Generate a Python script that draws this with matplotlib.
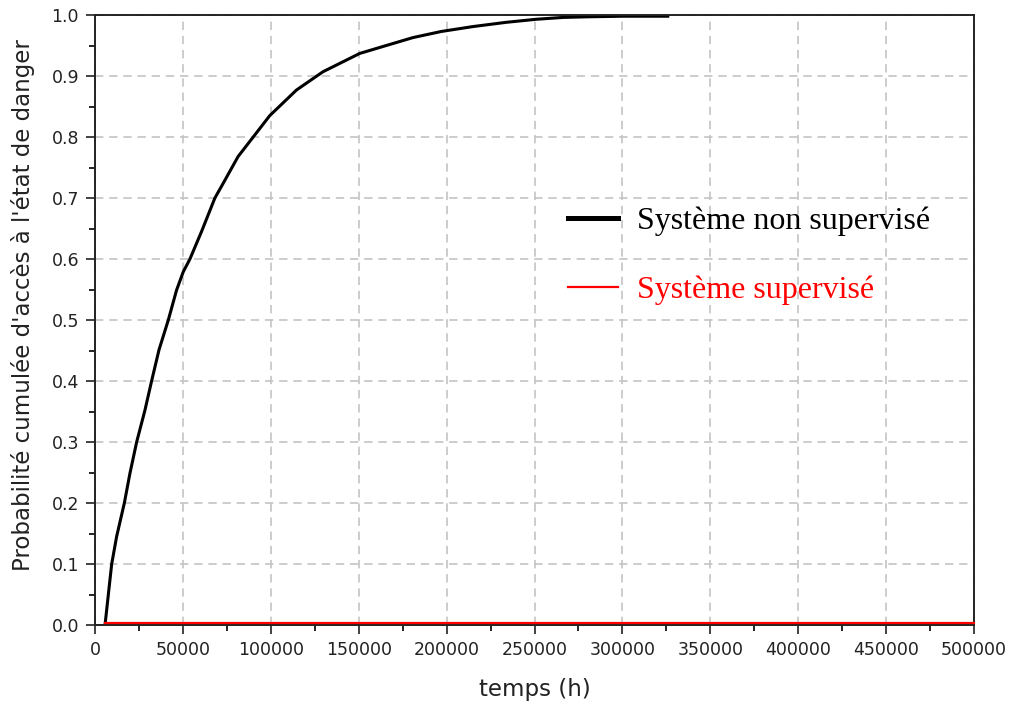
import numpy as np
import matplotlib
matplotlib.use('Agg')
import matplotlib.pyplot as plt
from matplotlib.ticker import MultipleLocator, FormatStrFormatter

# values
temps_h = [5700, 8500, 9500, 12300, 16700, 19900, 23700, 28400, 32200, 36400,
           41700, 46400, 50200, 54000, 60600, 68200, 72900, 81400,
           90000, 99400, 114600, 129700, 150600, 165700, 180900, 197000,
           214900, 233900, 251000, 266100, 279400, 300200, 325800]
proba_non_sup = [0.0, 0.074, 0.1, 0.145, 0.2, 0.249, 0.3, 0.352, 0.4, 0.451,
                 0.5, 0.549, 0.579, 0.6, 0.645, 0.7, 0.724, 0.768,
                 0.8, 0.835, 0.877, 0.907, 0.937, 0.95, 0.963, 0.973,
                 0.981, 0.988, 0.993, 0.996, 0.997, 0.998, 0.998]

temps_sup = [5700, 500000]
proba_sup = [0.004, 0.004]

labels = ['Système non supervisé', 'Système supervisé']

fig = plt.figure(figsize=(10.11, 7.04), dpi=100)
ax = fig.add_axes([95 / 1011, 1 - 625 / 704, 879 / 1011, 610 / 704])

ax.plot(temps_h, proba_non_sup, color='black', lw=2.2, label=labels[0])
ax.plot(temps_sup, proba_sup, color='red', lw=1.6, label=labels[1],
        zorder=3, clip_on=False)

ax.set_xlim(0, 500000)
ax.set_ylim(0, 1.0)
ax.xaxis.set_major_locator(MultipleLocator(50000))
ax.xaxis.set_minor_locator(MultipleLocator(25000))
ax.yaxis.set_major_locator(MultipleLocator(0.1))
ax.yaxis.set_minor_locator(MultipleLocator(0.05))
ax.yaxis.set_major_formatter(FormatStrFormatter('%.1f'))
ax.tick_params(which='major', direction='out', length=6.5, width=1.2,
               labelsize=12.5, colors='#222222', pad=5)
ax.tick_params(which='minor', direction='out', length=4.3, width=1.2)
ax.grid(True, which='major', color='#c4c4c4', linestyle=(0, (5, 3.5)), lw=1.2)
for s in ax.spines.values():
    s.set_linewidth(1.4)
    s.set_color('#222222')

ax.set_xlabel('temps (h)', fontsize=16.5, labelpad=14, color='#222222')
ax.set_ylabel("Probabilité cumulée d'accès à l'état de danger", fontsize=16.5,
              color='#222222')
ax.yaxis.set_label_coords(-0.068, 0.525)

leg = ax.legend(loc='upper left', bbox_to_anchor=(568 / 1011, 1 - 207 / 704),
                bbox_transform=fig.transFigure, frameon=False,
                prop={'family': 'Liberation Serif', 'size': 23},
                handlelength=1.57, handletextpad=0.6, labelspacing=1.22,
                borderpad=0, borderaxespad=0)
leg.get_lines()[0].set_linewidth(3.6)
leg.get_texts()[1].set_color('red')

fig.savefig('out.png', dpi=100)
